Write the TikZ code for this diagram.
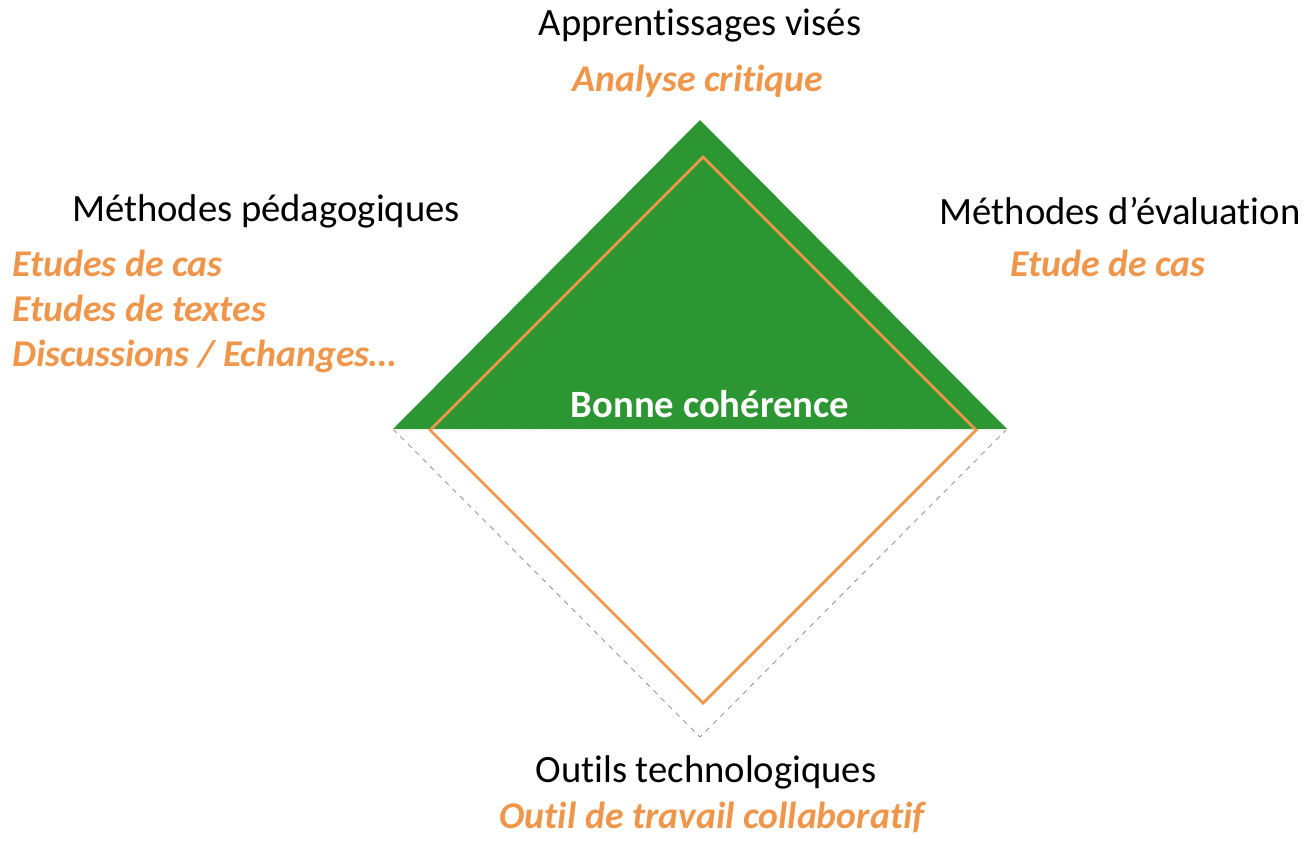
\documentclass[tikz,border=0pt]{standalone}
\usepackage{fontspec}
\setmainfont{Carlito}[Ligatures=NoCommon]
\usepackage{xcolor}
\usetikzlibrary{positioning}

\definecolor{vert}{RGB}{44,150,50}
\definecolor{orange}{RGB}{240,150,75}
\definecolor{gris}{RGB}{150,150,150}

\tikzset{
    titre/.style={font=\fontsize{22}{26}\selectfont, text=black, inner sep=0pt},
    choix/.style={font=\fontsize{21.5}{26}\selectfont\bfseries\itshape, text=orange, inner sep=0pt,
        text height=0.7em, text depth=0.2em},
}

\begin{document}
\begin{tikzpicture}[x=0.02cm, y=-0.02cm]
                    \useasboundingbox (0, 0) rectangle (1307, 843);

                    % coins du losange
                    \coordinate (haut) at (700, 120);
                    \coordinate (gauche) at (393, 429);
                    \coordinate (droite) at (1007, 429);
                    \coordinate (bas) at (700, 737);

                    \fill[vert] (gauche) -- (haut) -- (droite) -- cycle;
                    \draw[gris, dashed, line width=0.5pt]
                    (gauche) -- (bas) -- (droite);
                    \draw[white!85!gris, dashed, line width=0.5pt]
                    (gauche) -- (droite);

                    \draw[orange, line width=1.6pt]
                    (703, 157) -- (976, 430) -- (703, 703) -- (430, 430) -- cycle;

                    \node[titre] (appr) at (700, 26) {Apprentissages visés};
                    \node[choix] (analyse) at (698, 87) {Analyse critique};

                    \node[titre] (peda) at (266, 211) {Méthodes pédagogiques};
                    \node[choix, anchor=west] (cas) at (12, 272) {Etudes de cas};
                    \node[choix, anchor=west] (textes) at (12, 317) {Etudes de textes};
                    \node[choix, anchor=west] (discu) at (12, 362) {Discussions / Echanges\dots};

                    \node[titre] (eval) at (1120, 211) {Méthodes d’évaluation};
                    \node[choix] (etude) at (1108, 272) {Etude de cas};

                    \node[choix, text=white, font=\fontsize{22}{26}\selectfont\bfseries] (bonne) at (710, 413) {Bonne cohérence};

                    \node[titre] (outils) at (706, 772) {Outils technologiques};
                    \node[choix] (outil) at (712, 824) {Outil de travail collaboratif};
                \end{tikzpicture}
\end{document}
